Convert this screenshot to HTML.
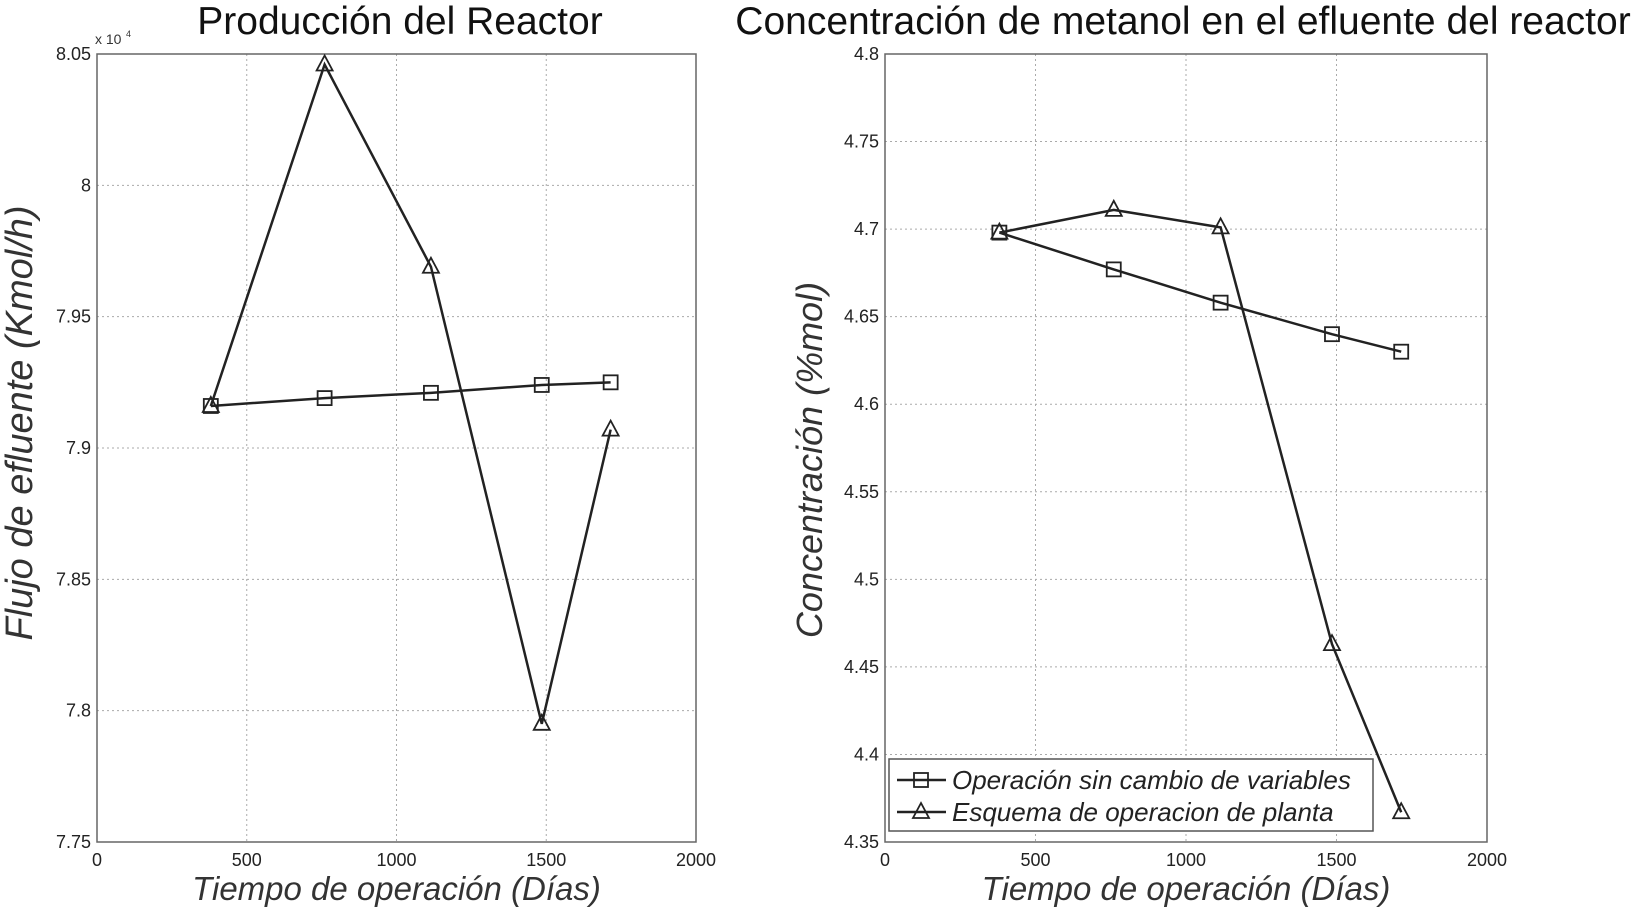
<!DOCTYPE html>
<html><head><meta charset="utf-8"><style>
body{margin:0;background:#fff;}
svg{display:block;font-family:"Liberation Sans",sans-serif;}
</style></head><body>
<svg id="c" width="1637" height="912"></svg>
<script>
const xTicks=[0,500,1000,1500,2000];
const days=[380,760,1115,1485,1715];
const flowBase=[7.916,7.919,7.921,7.924,7.925];
const flowPlant=[7.916,8.046,7.969,7.795,7.907];
const yTicksL=[7.75,7.8,7.85,7.9,7.95,8,8.05];
const yTickLabelsL=["7.75","7.8","7.85","7.9","7.95","8","8.05"];
const concBase=[4.698,4.677,4.658,4.640,4.630];
const concPlant=[4.698,4.711,4.701,4.463,4.367];
const yTicksR=[4.35,4.4,4.45,4.5,4.55,4.6,4.65,4.7,4.75,4.8];
const yTickLabelsR=["4.35","4.4","4.45","4.5","4.55","4.6","4.65","4.7","4.75","4.8"];
const legendLabels=["Operación sin cambio de variables","Esquema de operacion de planta"];

const svg=document.getElementById('c');
const NS="http://www.w3.org/2000/svg";
function mk(t,a,p){const e=document.createElementNS(NS,t);for(const k in a)e.setAttribute(k,a[k]);(p||svg).appendChild(e);return e;}
function txt(s,a,p){const e=mk('text',a,p);e.textContent=s;return e;}
function sq(g,x,y){mk('rect',{x:x-7,y:y-7,width:14,height:14,fill:'none',stroke:'#222','stroke-width':1.8},g);}
function tri(g,x,y){mk('polygon',{points:`${x},${y-9} ${x-8},${y+6} ${x+8},${y+6}`,fill:'none',stroke:'#222','stroke-width':1.8},g);}

function panel(o){
  const g=mk('g',{});
  
  
  const X=v=>o.x0+(v-0)/(2000-0)*(o.x1-o.x0);
  const Y=v=>o.yb+(v-o.ymin)/(o.ymax-o.ymin)*(o.yt-o.yb);
  mk('rect',{x:o.x0,y:o.yt,width:o.x1-o.x0,height:o.yb-o.yt,fill:'#fff'},g);
  xTicks.forEach(t=>{
    const x=X(t);
    if(t>0&&t<2000){const l=mk('line',{x1:x,x2:x,y1:o.yt,y2:o.yb,stroke:'#aaa','stroke-dasharray':'2,3'},g);}
    const tl=txt(String(t),{x:x,y:o.yb+24,'text-anchor':'middle','font-size':18,fill:'#222'},g);
    
  });
  o.yTicks.forEach((t,i)=>{
    const y=Y(t);
    if(i>0&&i<o.yTicks.length-1){const l=mk('line',{x1:o.x0,x2:o.x1,y1:y,y2:y,stroke:'#aaa','stroke-dasharray':'2,3'},g);}
    const tl=txt(o.yLabels[i],{x:o.x0-6,y:y+6,'text-anchor':'end','font-size':18,fill:'#222'},g);
    
  });
  const fr=mk('rect',{x:o.x0,y:o.yt,width:o.x1-o.x0,height:o.yb-o.yt,fill:'none',stroke:'#666','stroke-width':1.5},g);
  
  const series=[[o.base,sq,'series-base'],[o.plant,tri,'series-plant']];
  series.forEach(([vals,m,nm])=>{
    const s=mk('g',{},g);
    
    
    mk('polyline',{points:days.map((d,i)=>X(d)+','+Y(vals[i])).join(' '),fill:'none',stroke:'#222','stroke-width':2.5},s);
    days.forEach((d,i)=>m(s,X(d),Y(vals[i])));
  });
  const t=txt(o.title,{x:o.tx,y:34,'text-anchor':'middle','font-size':39,fill:'#111'},g);
  
  const xl=txt('Tiempo de operación (Días)',{x:(o.x0+o.x1)/2,y:900,'text-anchor':'middle','font-size':33,'font-style':'italic',fill:'#333'},g);
  
  const yl=txt(o.ylab,{x:0,y:0,'text-anchor':'middle','font-size':o.ylfs,'font-style':'italic',fill:'#333',transform:`translate(${o.ylx},${o.yly}) rotate(-90)`},g);
  
  return {g,X,Y};
}
const L=panel({name:'reactor-production-chart',x0:97,x1:696,yt:54,yb:842,ymin:7.75,ymax:8.05,yTicks:yTicksL,yLabels:yTickLabelsL,base:flowBase,plant:flowPlant,title:'Producción del Reactor',tx:400,ylab:'Flujo de efluente (Kmol/h)',ylx:32,yly:423,ylfs:38});
const ex=txt('x 10',{x:95,y:44,'font-size':14,fill:'#333'});

txt('4',{x:126,y:37,'font-size':9,fill:'#333'});
const R=panel({name:'methanol-concentration-chart',x0:885,x1:1487,yt:54,yb:842,ymin:4.35,ymax:4.8,yTicks:yTicksR,yLabels:yTickLabelsR,base:concBase,plant:concPlant,title:'Concentración de metanol en el efluente del reactor',tx:1183,ylab:'Concentración (%mol)',ylx:822,yly:460,ylfs:36});
const lg=mk('g',{});


mk('rect',{x:889,y:759,width:484,height:72,fill:'#fff',stroke:'#555','stroke-width':1.5},lg);
legendLabels.forEach((s,i)=>{
  const e=mk('g',{},lg);
  
  
  const y=780+i*32;
  mk('line',{x1:897,x2:946,y1:y,y2:y,stroke:'#222','stroke-width':2.5},e);
  (i==0?sq:tri)(e,921,y);
  txt(s,{x:952,y:y+9,'font-size':26,'font-style':'italic',fill:'#222'},e);
});
</script>
</body></html>
